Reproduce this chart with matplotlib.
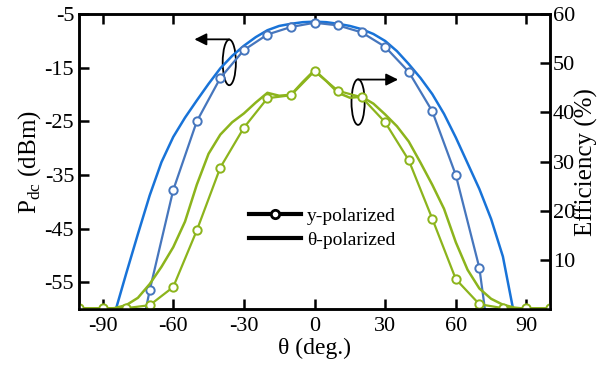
import numpy as np
import matplotlib
matplotlib.use("Agg")
import matplotlib.pyplot as plt
from matplotlib.lines import Line2D
from matplotlib.patches import Ellipse

plt.rcParams['font.family'] = ['Liberation Serif', 'DejaVu Serif']
plt.rcParams['mathtext.fontset'] = 'custom'
plt.rcParams['mathtext.rm'] = 'Liberation Serif'
plt.rcParams['axes.unicode_minus'] = False

# y-polarized, sampled every 10 deg (markers)
theta_y = [-100, -90, -80, -70, -60, -50, -40, -30, -20, -10, 0,
           10, 20, 30, 40, 50, 60, 70, 80, 90, 100]
pdc_y = [-90, -88, -78, -56.5, -37.8, -25.0, -16.9, -11.7, -8.8, -7.4, -6.6,
         -7.1, -8.4, -11.1, -15.75, -23.1, -35.0, -52.3, -85, -90, -90]
eff_y = [0.2, 0.2, 0.2, 0.8, 4.5, 16.0, 28.8, 36.9, 42.9, 43.5, 48.4,
         44.4, 43.1, 38.0, 30.3, 18.4, 6.1, 1.0, 0.2, 0.2, 0.2]

# theta-polarized, read every 5 deg
theta_t = [-100, -95, -90, -85, -80, -75, -70, -65, -60, -55, -50, -45, -40,
           -35, -30, -25, -20, -15, -10, -5, 0, 5, 10, 15, 20, 25, 30, 35,
           40, 45, 50, 55, 60, 65, 70, 75, 80, 85, 90, 95, 100]
pdc_t = [-90, -85, -75, -61, -53.4, -46.0, -38.8, -32.6, -27.9, -24.3, -21.1,
         -18.0, -15.1, -12.8, -10.9, -9.3, -8.0, -7.2, -6.8, -6.5, -6.4, -6.5,
         -6.8, -7.2, -7.8, -8.7, -10.0, -11.9, -14.3, -16.9, -19.9, -23.6,
         -28.0, -32.8, -37.6, -43.2, -50.2, -61.5, -75, -85, -90]
eff_t = [0.0, 0.0, 0.05, 0.2, 0.8, 2.3, 5.1, 8.6, 12.6, 17.8, 25.3, 31.6, 35.5,
         38.0, 39.8, 42.0, 44.0, 43.4, 43.6, 46.2, 48.6, 46.4, 44.0, 43.0,
         43.2, 41.8, 39.6, 37.2, 34.1, 29.8, 25.3, 20.4, 13.6, 8.0, 4.2, 2.1,
         0.9, 0.3, 0.05, 0.0, 0.0]

c_bright = '#1873d8'
c_blue = '#4676bd'
c_green = '#8cb41c'

fig = plt.figure(figsize=(6.08, 3.72), dpi=100)
ax = fig.add_axes([0.130, 0.169, 0.7746, 0.793])
ax2 = ax.twinx()

ax.plot(theta_t, pdc_t, color=c_bright, lw=1.8)
ax.plot(theta_y, pdc_y, color=c_blue, lw=1.6, marker='o', ms=6,
        mfc='white', mec=c_blue, mew=1.4)
ax2.plot(theta_t, eff_t, color=c_green, lw=1.8)
ax2.plot(theta_y, eff_y, color=c_green, lw=1.6, marker='o', ms=6,
         mfc='white', mec=c_green, mew=1.4)

ax.set_xlim(-100, 100)
ax.set_ylim(-60, -5)
ax2.set_ylim(0, 60)
ax.set_xticks([-90, -60, -30, 0, 30, 60, 90])
ax.set_yticks([-55, -45, -35, -25, -15, -5])
ax2.set_yticks([10, 20, 30, 40, 50, 60])

ax.tick_params(axis='x', direction='in', top=True, length=7, width=1.8,
               labelsize=16, pad=6)
ax.tick_params(axis='y', direction='in', length=7, width=1.8, labelsize=16)
ax2.tick_params(axis='y', direction='in', length=7, width=1.8, labelsize=16,
                pad=2)
for a in (ax, ax2):
    for s in a.spines.values():
        s.set_linewidth(1.8)

ax.set_xlabel('θ (deg.)', fontsize=17, labelpad=1)
ax.set_ylabel(r'P$_{\mathrm{dc}}$ (dBm)', fontsize=18, labelpad=1)
ax2.set_ylabel('Efficiency (%)', fontsize=18, labelpad=0)

# annotation ellipses with arrows
ax.add_patch(Ellipse((-36.2, -14.0), 5.6, 8.5, fill=False, ec='black', lw=1.3))
ax.annotate('', xy=(-51, -9.7), xytext=(-36.2, -9.7),
            arrowprops=dict(arrowstyle='-|>', color='black', lw=1.3,
                            mutation_scale=18, shrinkA=0, shrinkB=0))
ax.add_patch(Ellipse((18.5, -21.4), 5.6, 8.5, fill=False, ec='black', lw=1.3))
ax.annotate('', xy=(35.5, -17.2), xytext=(18.5, -17.2),
            arrowprops=dict(arrowstyle='-|>', color='black', lw=1.3,
                            mutation_scale=18, shrinkA=0, shrinkB=0))

handles = [Line2D([], [], color='black', lw=3, marker='o', ms=6,
                  mfc='white', mec='black', mew=2),
           Line2D([], [], color='black', lw=3)]
ax.legend(handles, ['y-polarized', 'θ-polarized'], loc='center left',
          bbox_to_anchor=(0.34, 0.275), frameon=False, fontsize=14,
          handlelength=2.7, handletextpad=0.3, labelspacing=0.3,
          borderpad=0)

fig.savefig('out.png', dpi=100)
